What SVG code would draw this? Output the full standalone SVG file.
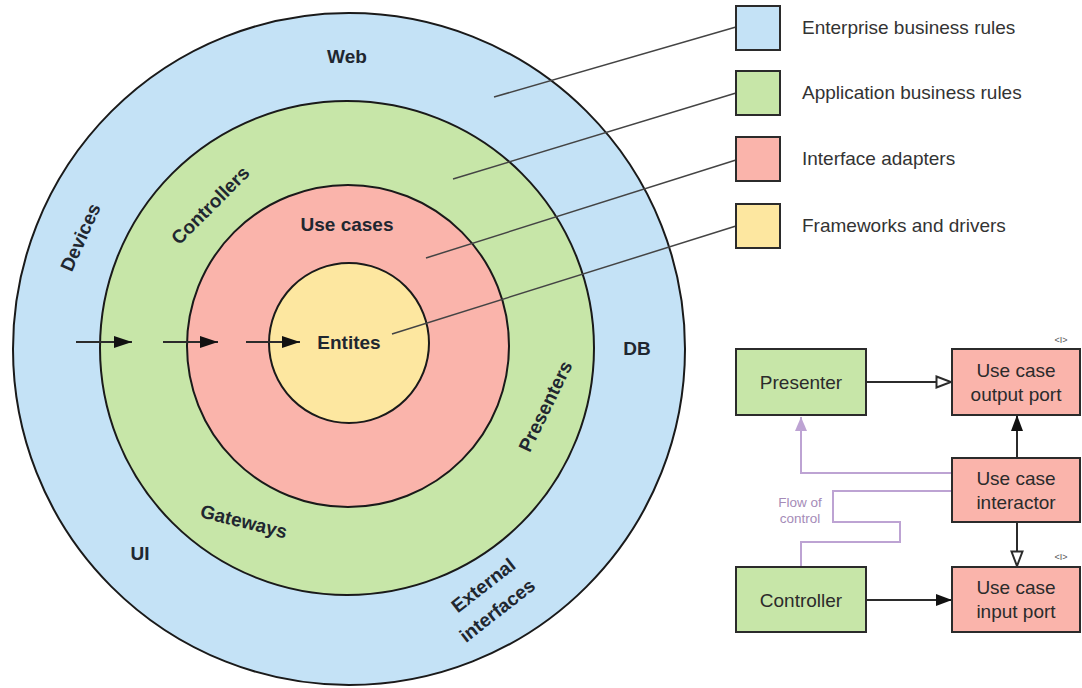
<svg xmlns="http://www.w3.org/2000/svg" width="1082" height="688" viewBox="0 0 1082 688">
<style>
.ring{stroke:#1a1a1a;stroke-width:2}
.lbl{font-family:"Liberation Sans",Arial,sans-serif;font-weight:bold;font-size:19px;fill:#1f2730;text-anchor:middle}
.leg{font-family:"Liberation Sans",Arial,sans-serif;font-size:19px;fill:#333}
.box{stroke:#2b2b2b;stroke-width:2}
.bt{font-family:"Liberation Sans",Arial,sans-serif;font-size:19px;fill:#2b2b2b;text-anchor:middle}
.small{font-family:"Liberation Sans",Arial,sans-serif;font-size:9px;fill:#555;text-anchor:middle}
.flow{font-family:"Liberation Sans",Arial,sans-serif;font-size:13.5px;fill:#a58bb8;text-anchor:middle}
.lead{stroke:#444;stroke-width:1.5;fill:none}
.conn{stroke:#2b2b2b;stroke-width:2;fill:none}
.purp{stroke:#bda3d3;stroke-width:2;fill:none}
.blue{fill:#c4e2f6}.green{fill:#c7e6a8}.red{fill:#fab4ab}.yellow{fill:#fde7a0}
</style>
<defs>
<marker id="ah" markerUnits="userSpaceOnUse" markerWidth="18" markerHeight="12" viewBox="0 0 18 12" refX="18" refY="6" orient="auto"><path d="M0,0 L18,6 L0,12 z" fill="#111"/></marker>
<marker id="af" markerUnits="userSpaceOnUse" markerWidth="16" markerHeight="12" viewBox="0 0 16 12" refX="16" refY="6" orient="auto"><path d="M0,0 L16,6 L0,12 z" fill="#111"/></marker>
<marker id="ao" markerUnits="userSpaceOnUse" markerWidth="18" markerHeight="14" viewBox="0 0 18 14" refX="17" refY="7" orient="auto"><path d="M1.5,1.5 L16,7 L1.5,12.5 z" fill="#fff" stroke="#2b2b2b" stroke-width="2"/></marker>
<marker id="ap" markerUnits="userSpaceOnUse" markerWidth="14" markerHeight="12" viewBox="0 0 14 12" refX="14" refY="6" orient="auto"><path d="M0,0 L14,6 L0,12 z" fill="#bda3d3"/></marker>
</defs>

<g id="onion">
<g id="ring-frameworks"><circle class="ring blue" cx="349" cy="349" r="336"/></g>
<g id="ring-adapters"><circle class="ring green" cx="347" cy="348" r="247"/></g>
<g id="ring-usecases"><circle class="ring red" cx="348" cy="346" r="161"/></g>
<g id="ring-entities"><circle class="ring yellow" cx="349" cy="343" r="80"/></g>
</g>

<g id="leaders">
<line class="lead" x1="494" y1="97" x2="736" y2="27"/>
<line class="lead" x1="453" y1="179" x2="736" y2="93"/>
<line class="lead" x1="426" y1="258" x2="736" y2="160"/>
<line class="lead" x1="392" y1="334" x2="736" y2="226"/>
</g>

<g id="ring-labels">
<text class="lbl" x="347" y="63">Web</text>
<text class="lbl" transform="translate(80,237) rotate(-66)" y="7">Devices</text>
<text class="lbl" transform="translate(210,205) rotate(-45)" y="7">Controllers</text>
<text class="lbl" x="347" y="231">Use cases</text>
<text class="lbl" x="349" y="349">Entites</text>
<text class="lbl" x="637" y="355">DB</text>
<text class="lbl" transform="translate(545,406) rotate(-64)" y="7">Presenters</text>
<text class="lbl" transform="translate(244,521) rotate(14)" y="7">Gateways</text>
<text class="lbl" x="140" y="560">UI</text>
<text class="lbl" transform="translate(483,585) rotate(-38)" y="7">External</text>
<text class="lbl" transform="translate(497,610) rotate(-38)" y="7">interfaces</text>
</g>

<g id="ring-arrows">
<line class="conn" x1="76" y1="342" x2="132" y2="342" stroke="#111" marker-end="url(#ah)"/>
<line class="conn" x1="163" y1="342" x2="218" y2="342" stroke="#111" marker-end="url(#ah)"/>
<line class="conn" x1="246" y1="342" x2="300" y2="342" stroke="#111" marker-end="url(#ah)"/>
</g>

<g id="legend">
<g id="legend-enterprise"><rect class="box blue" x="736" y="6" width="44" height="44"/><text class="leg" x="802" y="34">Enterprise business rules</text></g>
<g id="legend-application"><rect class="box green" x="736" y="71" width="44" height="44"/><text class="leg" x="802" y="99">Application business rules</text></g>
<g id="legend-adapters"><rect class="box red" x="736" y="137" width="44" height="44"/><text class="leg" x="802" y="165">Interface adapters</text></g>
<g id="legend-frameworks"><rect class="box yellow" x="736" y="204" width="44" height="44"/><text class="leg" x="802" y="232">Frameworks and drivers</text></g>
</g>

<g id="connectors">
<line class="conn" x1="866" y1="382" x2="952" y2="382" marker-end="url(#ao)"/>
<line class="conn" x1="1017" y1="458" x2="1017" y2="415" marker-end="url(#af)"/>
<line class="conn" x1="1017" y1="522" x2="1017" y2="567" marker-end="url(#ao)"/>
<line class="conn" x1="866" y1="600" x2="952" y2="600" marker-end="url(#af)"/>
<polyline class="purp" points="952,473 801,473 801,417" marker-end="url(#ap)"/>
<polyline class="purp" points="952,491 833,491 833,522 900,522 900,542 801,542 801,567"/>
</g>

<g id="presenter"><rect class="box green" x="736" y="349" width="130" height="66"/><text class="bt" x="801" y="389">Presenter</text></g>
<g id="output-port"><rect class="box red" x="952" y="349" width="128" height="66"/><text class="bt" x="1016" y="377">Use case</text><text class="bt" x="1016" y="401">output port</text><text class="small" x="1061" y="343">&lt;I&gt;</text></g>
<g id="interactor"><rect class="box red" x="952" y="458" width="128" height="64"/><text class="bt" x="1016" y="485">Use case</text><text class="bt" x="1016" y="509">interactor</text></g>
<g id="controller"><rect class="box green" x="736" y="567" width="130" height="65"/><text class="bt" x="801" y="607">Controller</text></g>
<g id="input-port"><rect class="box red" x="952" y="567" width="128" height="65"/><text class="bt" x="1016" y="594">Use case</text><text class="bt" x="1016" y="618">input port</text><text class="small" x="1061" y="560">&lt;I&gt;</text></g>
<g id="flow-label"><text class="flow" x="800" y="507">Flow of</text><text class="flow" x="800" y="523">control</text></g>
</svg>
